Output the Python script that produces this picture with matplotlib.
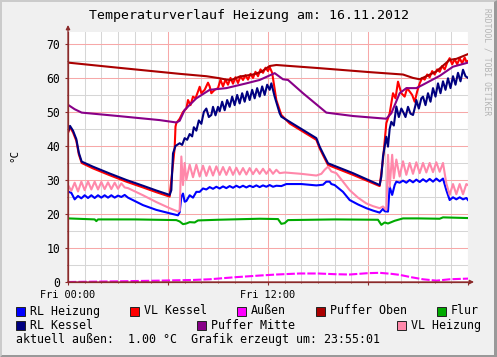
import matplotlib
matplotlib.use("Agg")
import matplotlib.pyplot as plt
from matplotlib.patches import Rectangle, Polygon
from matplotlib.ticker import MultipleLocator

plt.rcParams['font.family'] = ['DejaVu Sans Mono']
plt.rcParams['lines.scale_dashes'] = False

W, H = 497, 357

title = "Temperaturverlauf Heizung am: 16.11.2012"
x_labels = {0: "Fri 00:00", 12: "Fri 12:00"}
footer = "aktuell außen:  1.00 °C  Grafik erzeugt um: 23:55:01"

# Stunden ab Fri 00:00 / Werte in °C
rl_heizung_t = [0.0, 0.2, 0.4, 0.6, 0.8, 1.0, 1.2, 1.4, 1.6, 1.8, 2.0, 2.2, 2.4, 2.6, 2.8, 3.0, 3.2, 3.4, 3.6,
                4.5, 5.3, 6.1, 6.6, 6.7, 6.8, 6.9, 7.0, 7.1, 7.3, 7.5, 7.7, 7.9, 8.1, 8.3, 8.5, 8.7, 8.9,
                9.1, 9.3, 9.5, 9.7, 9.9, 10.1, 10.3, 10.5, 10.7, 10.9, 11.1, 11.3, 11.5, 11.7, 11.9, 12.1,
                12.3, 12.5, 12.8, 13.1, 14.0, 14.9, 15.3, 15.5, 15.7, 15.8, 16.0, 16.5, 16.9, 17.4, 17.9,
                18.3, 18.7, 18.9, 19.0, 19.2, 19.3, 19.45, 19.6, 19.7, 19.9, 20.1, 20.3, 20.5, 20.7, 20.9,
                21.1, 21.3, 21.5, 21.7, 21.9, 22.1, 22.3, 22.5, 22.7, 22.9, 23.1, 23.3, 23.5, 23.7, 23.9, 24.0]
rl_heizung_v = [26.6, 26.2, 24.3, 25.3, 24.6, 25.5, 24.7, 25.5, 24.7, 25.5, 24.8, 25.5, 24.8, 25.5, 24.8, 25.4, 25.0, 25.6, 24.8,
                22.6, 21.2, 20.2, 19.6, 20.5, 25.1, 26.0, 23.6, 23.8, 25.5, 24.8, 26.5, 26.5, 27.5, 27.2, 27.9, 27.4, 28.0,
                27.5, 28.1, 27.6, 28.2, 27.7, 28.3, 27.8, 28.3, 27.8, 28.3, 27.9, 28.4, 27.9, 28.4, 28.0, 28.5,
                28.0, 28.3, 28.2, 28.8, 28.8, 28.4, 28.6, 29.5, 29.5, 28.8, 28.5, 26.5, 24.1, 22.8, 21.7,
                21.0, 20.4, 21.5, 20.8, 20.7, 28.0, 25.6, 28.5, 29.5, 29.2, 29.8, 29.2, 30.0, 29.3, 30.1,
                29.4, 30.2, 29.5, 30.3, 29.5, 30.4, 29.6, 30.4, 27.0, 24.1, 24.9, 24.3, 24.9, 24.3, 24.7, 24.1]

vl_kessel_t = [0.0, 0.12, 0.3, 0.5, 0.65, 0.82, 1.5, 2.5, 3.5, 4.5, 5.3, 6.1, 6.2, 6.4, 6.45, 6.5, 6.7, 6.9,
               7.1, 7.2, 7.35, 7.5, 7.65, 7.8, 7.9, 8.0, 8.2, 8.4, 8.5, 8.6, 8.8, 9.0, 9.15, 9.3, 9.45, 9.6,
               9.75, 9.9, 10.05, 10.2, 10.35, 10.5, 10.65, 10.8, 10.95, 11.1, 11.25, 11.4, 11.55, 11.7,
               11.85, 12.0, 12.1, 12.25, 12.5, 12.8, 13.3, 14.1, 14.9, 15.1, 15.3, 15.6, 17.1, 18.7, 18.9,
               19.1, 19.3, 19.5, 19.65, 19.8, 20.0, 20.2, 20.35, 20.5, 20.65, 20.8, 20.95, 21.1, 21.25,
               21.4, 21.55, 21.7, 21.85, 22.0, 22.15, 22.3, 22.45, 22.6, 22.75, 22.9, 23.05, 23.2, 23.35,
               23.5, 23.65, 23.8, 23.9, 24.0]
vl_kessel_v = [43.8, 45.5, 44.0, 41.5, 37.5, 35.0, 33.4, 31.4, 29.5, 27.8, 26.4, 25.1, 30.0, 39.4, 45.7, 46.7, 48.0, 50.0,
               51.0, 53.5, 52.0, 54.5, 54.0, 56.0, 57.4, 55.5, 56.5, 58.6, 57.5, 55.5, 56.5, 57.0, 59.5, 57.5, 59.5, 58.0,
               60.0, 58.3, 60.2, 58.5, 60.5, 59.4, 60.8, 59.5, 61.2, 60.0, 61.8, 60.5, 62.5, 61.5,
               63.0, 62.0, 63.2, 61.5, 53.5, 49.1, 46.6, 44.2, 41.8, 39.3, 37.3, 34.4, 31.5, 28.2, 36.0,
               46.7, 49.6, 55.5, 54.0, 58.9, 55.5, 54.5, 57.0, 56.0, 55.0, 53.0, 56.0, 58.4, 60.0,
               59.5, 61.0, 60.2, 62.0, 61.0, 62.5, 61.8, 63.5, 62.5, 64.5, 65.8, 64.0, 65.5, 64.0,
               65.8, 64.3, 66.0, 64.8, 65.0]

aussen_t = [0.0, 3.0, 5.5, 7.5, 8.5, 10.0, 11.5, 12.5, 13.9, 15.0, 16.0, 16.9, 18.0, 18.7, 19.4, 19.9,
            20.6, 21.3, 22.1, 22.9, 24.0]
aussen_v = [0.0, 0.2, 0.4, 0.6, 0.8, 1.4, 1.9, 2.2, 2.5, 2.5, 2.3, 2.2, 2.6, 2.7, 2.4, 2.1,
            1.4, 0.8, 0.4, 0.8, 1.0]

puffer_oben_t = [0.0, 3.0, 6.7, 8.3, 9.1, 9.5, 9.8, 10.3, 11.1, 11.6, 12.1, 12.5, 15.0, 18.1, 20.1, 20.7,
                 21.1, 21.5, 22.1, 22.9, 23.3, 24.0]
puffer_oben_v = [64.5, 63.0, 61.2, 60.5, 59.9, 59.5, 59.4, 60.4, 61.0, 61.8, 63.5, 63.8, 62.9, 61.7, 61.0, 60.0,
                 59.6, 60.5, 61.9, 65.3, 65.6, 67.0]

flur_t = [0.0, 1.6, 1.7, 1.8, 4.0, 6.5, 6.7, 6.9, 7.1, 7.3, 7.6, 7.8, 9.0, 11.5, 12.6, 12.8, 13.0, 13.2,
          16.0, 18.6, 18.8, 19.0, 19.2, 19.4, 19.6, 20.1, 21.0, 22.3, 22.5, 24.0]
flur_v = [18.7, 18.4, 17.9, 18.4, 18.4, 18.2, 17.8, 17.0, 17.2, 17.6, 17.5, 18.1, 18.3, 18.6, 18.5, 17.1, 17.3, 18.2,
          18.4, 18.3, 16.8, 17.5, 17.2, 17.6, 18.0, 18.7, 18.7, 18.6, 19.0, 18.8]

rl_kessel_t = [0.0, 0.12, 0.3, 0.5, 0.65, 0.82, 1.5, 2.5, 3.5, 4.5, 5.3, 6.1, 6.2, 6.3, 6.45, 6.7, 6.85,
               7.0, 7.15, 7.3, 7.45, 7.55, 7.7, 7.85, 8.0, 8.15, 8.3, 8.45, 8.6, 8.7, 8.85, 9.0, 9.1, 9.25,
               9.4, 9.55, 9.7, 9.85, 10.0, 10.15, 10.3, 10.45, 10.6, 10.75, 10.9, 11.05, 11.2, 11.35, 11.5,
               11.65, 11.8, 11.95, 12.1, 12.2, 12.4, 12.7, 12.8, 13.3, 14.1, 14.9, 15.1, 15.3, 15.6, 17.1,
               18.7, 18.8, 18.9, 19.0, 19.1, 19.2, 19.3, 19.4, 19.55, 19.7, 19.85, 20.0, 20.1, 20.25, 20.4,
               20.55, 20.7, 20.85, 20.9, 21.05, 21.2, 21.3, 21.45, 21.6, 21.75, 21.9, 22.05, 22.2, 22.35,
               22.5, 22.65, 22.8, 22.95, 23.1, 23.25, 23.4, 23.55, 23.7, 23.85, 24.0]
rl_kessel_v = [44.2, 45.9, 44.5, 42.0, 38.0, 35.4, 33.9, 31.9, 30.0, 28.3, 26.9, 25.6, 27.0, 37.8, 40.0, 40.8, 40.3,
               42.3, 41.8, 43.5, 42.8, 45.5, 44.5, 47.5, 46.5, 50.0, 51.0, 48.5, 49.1, 51.5, 49.0, 51.5, 50.2, 53.0,
               50.5, 53.5, 51.5, 54.5, 52.0, 55.0, 52.5, 55.5, 53.0, 56.0, 53.5, 56.5, 54.0, 57.0, 54.5,
               57.5, 55.0, 58.0, 56.5, 58.4, 54.5, 49.6, 48.6, 47.1, 44.7, 42.3, 39.8, 37.8, 34.9, 32.0,
               28.5, 31.0, 36.9, 39.8, 42.7, 39.8, 45.0, 47.1, 46.0, 51.6, 48.5, 51.0, 50.1, 48.5, 51.5,
               49.5, 49.1, 52.0, 53.5, 51.0, 54.0, 54.5, 52.0, 55.5, 53.0, 57.0, 54.5, 58.4, 55.5,
               59.0, 56.5, 59.9, 57.0, 60.5, 58.0, 61.5, 59.0, 62.4, 60.5, 60.0]

puffer_mitte_t = [0.0, 0.4, 0.82, 3.0, 5.5, 6.5, 6.7, 7.0, 7.7, 8.5, 9.5, 10.7, 11.5, 12.4, 12.9, 13.2, 14.1,
                  15.5, 17.1, 19.1, 19.4, 19.9, 20.3, 20.9, 21.3, 22.3, 23.1, 24.0]
puffer_mitte_v = [52.1, 50.8, 49.8, 48.8, 47.6, 46.9, 47.4, 50.6, 54.0, 56.5, 57.0, 58.4, 59.4, 61.4, 59.6, 59.4, 55.5,
                  49.8, 48.8, 48.0, 49.6, 55.5, 57.0, 57.0, 58.0, 60.6, 63.3, 64.5]

vl_heizung_t = [0.0, 0.2, 0.4, 0.6, 0.8, 1.0, 1.2, 1.4, 1.6, 1.8, 2.0, 2.2, 2.4, 2.6, 2.8, 3.0, 3.2, 3.4, 3.6,
                4.5, 5.3, 6.1, 6.6, 6.7, 6.8, 6.9, 7.0, 7.1, 7.3, 7.5, 7.7, 7.9, 8.1, 8.3, 8.5, 8.7, 8.9, 9.1,
                9.3, 9.5, 9.7, 9.9, 10.1, 10.3, 10.5, 10.7, 10.9, 11.1, 11.3, 11.5, 11.7, 11.9, 12.1, 12.3,
                12.5, 12.7, 13.0, 14.0, 14.9, 15.2, 15.4, 15.6, 15.8, 16.1, 16.5, 16.9, 17.4, 17.9, 18.3,
                18.7, 18.9, 19.1, 19.2, 19.3, 19.45, 19.55, 19.7, 19.9, 20.1, 20.3, 20.5, 20.7, 20.9, 21.1,
                21.3, 21.5, 21.7, 21.9, 22.1, 22.3, 22.5, 22.7, 22.9, 23.1, 23.3, 23.5, 23.7, 23.9, 24.0]
vl_heizung_v = [28.5, 26.8, 29.2, 26.6, 29.5, 27.0, 29.6, 27.2, 29.5, 27.2, 29.4, 27.3, 29.3, 27.3, 29.2, 27.4, 29.0, 27.8, 27.6,
                25.5, 23.5, 21.7, 20.7, 21.0, 36.9, 28.5, 35.0, 30.0, 34.5, 30.8, 34.5, 31.0, 34.2, 31.2, 34.0, 31.3, 34.0, 31.5,
                33.8, 31.5, 33.8, 31.5, 33.6, 31.6, 33.5, 31.6, 33.5, 31.7, 33.3, 31.8, 33.3, 31.8, 33.2, 31.8,
                33.0, 32.0, 32.2, 31.8, 31.3, 31.8, 33.0, 33.9, 32.5, 32.0, 29.5, 27.0, 24.8, 23.1, 22.3,
                21.7, 22.2, 21.2, 37.4, 28.0, 37.4, 30.5, 36.0, 31.0, 35.5, 31.5, 35.0, 31.8, 35.2, 32.0,
                35.0, 32.2, 35.0, 32.3, 35.2, 32.4, 35.0, 29.0, 25.6, 28.8, 25.8, 28.8, 25.8, 28.8, 28.5]

series = [
    ("RL Heizung", rl_heizung_t, rl_heizung_v, "#0000ff"),
    ("VL Kessel", vl_kessel_t, vl_kessel_v, "#ff0000"),
    ("Außen", aussen_t, aussen_v, "#ff00ff"),
    ("Puffer Oben", puffer_oben_t, puffer_oben_v, "#aa0000"),
    ("Flur", flur_t, flur_v, "#00aa00"),
    ("RL Kessel", rl_kessel_t, rl_kessel_v, "#000080"),
    ("Puffer Mitte", puffer_mitte_t, puffer_mitte_v, "#880088"),
    ("VL Heizung", vl_heizung_t, vl_heizung_v, "#ff88aa"),
]

# Legendenpositionen (Pixel: x des Kästchens, Zeile)
legend_pos = [(16, 0), (130, 0), (237, 0), (316, 0), (437, 0), (16, 1), (197, 1), (397, 1)]

axis_col = "#8b2a2a"

fig = plt.figure(figsize=(W / 100, H / 100), dpi=100, facecolor="#f0f0f0")

# 3D-Rahmen
fig.add_artist(Polygon([(0, 0), (0, 1), (1, 1), (1 - 2 / W, 1 - 2 / H), (2 / W, 1 - 2 / H), (2 / W, 2 / H)],
                       closed=True, transform=fig.transFigure, facecolor="#cbcbcb", edgecolor="none"))
fig.add_artist(Polygon([(1, 1), (1, 0), (0, 0), (2 / W, 2 / H), (1 - 3 / W, 2 / H), (1 - 3 / W, 1 - 2 / H)],
                       closed=True, transform=fig.transFigure, facecolor="#999999", edgecolor="none"))

ax = fig.add_axes([68 / W, (H - 282) / H, 400 / W, 250 / H])
ax.set_facecolor("white")
ax.set_xlim(0, 24)
ax.set_ylim(0, 73.5)

ax.xaxis.set_major_locator(MultipleLocator(6))
ax.xaxis.set_minor_locator(MultipleLocator(1))
ax.yaxis.set_major_locator(MultipleLocator(10))
ax.yaxis.set_minor_locator(MultipleLocator(5))
ax.grid(which="minor", color="#d6d6d6", lw=0.75)
ax.grid(which="major", color="#f7a8a8", lw=0.75)
ax.set_axisbelow(True)
ax.set_xticks([0, 6, 12, 18, 24])
ax.set_xticklabels([x_labels.get(v, "") for v in [0, 6, 12, 18, 24]])
ax.tick_params(which="major", length=2, width=0.8, color=axis_col, pad=4)
ax.tick_params(axis="x", labelsize=7.4)
ax.tick_params(axis="y", labelsize=8.3, pad=3.5)
ax.tick_params(which="minor", length=1, width=0.6, color=axis_col)
for s in ["top", "right"]:
    ax.spines[s].set_visible(False)
for s in ["left", "bottom"]:
    ax.spines[s].set_color(axis_col)
    ax.spines[s].set_linewidth(0.9)

for name, t, v, c in series:
    if name == "Außen":
        ax.plot(t, v, color=c, lw=1.5, dashes=(6, 1.5), solid_capstyle="butt")
    else:
        ax.plot(t, v, color=c, lw=1.5)

# Pfeile an den Achsen
ax.annotate("", xy=(68, H - 25), xytext=(68, H - 282), xycoords="figure pixels",
            arrowprops=dict(arrowstyle="-|>", color=axis_col, lw=0.9, mutation_scale=6, shrinkA=0, shrinkB=0))
ax.annotate("", xy=(474, H - 282), xytext=(68, H - 282), xycoords="figure pixels",
            arrowprops=dict(arrowstyle="-|>", color=axis_col, lw=0.9, mutation_scale=6, shrinkA=0, shrinkB=0))

fig.text(249 / W, 1 - 16 / H, title, ha="center", va="center", fontsize=9.5)
fig.text(14 / W, 1 - 155 / H, "°C", rotation=90, ha="center", va="center", fontsize=7.8)
fig.text(487 / W, 1 - 62 / H, "RRDTOOL / TOBI OETIKER", rotation=-90, ha="center", va="center",
         fontsize=5.8, color="#b4b4b4")

row_y = [311, 325.5]
for (name, t, v, c), (px, row) in zip(series, legend_pos):
    yc = row_y[row]
    fig.add_artist(Rectangle((px / W, 1 - (yc + 4.5) / H), 9 / W, 9 / H, transform=fig.transFigure,
                             facecolor=c, edgecolor="#222222", lw=0.7))
    fig.text((px + 14) / W, 1 - yc / H, name, ha="left", va="center", fontsize=8.4)

fig.text(16 / W, 1 - 339.5 / H, footer, ha="left", va="center", fontsize=8.4)

fig.savefig("out.png", dpi=100, facecolor=fig.get_facecolor())
